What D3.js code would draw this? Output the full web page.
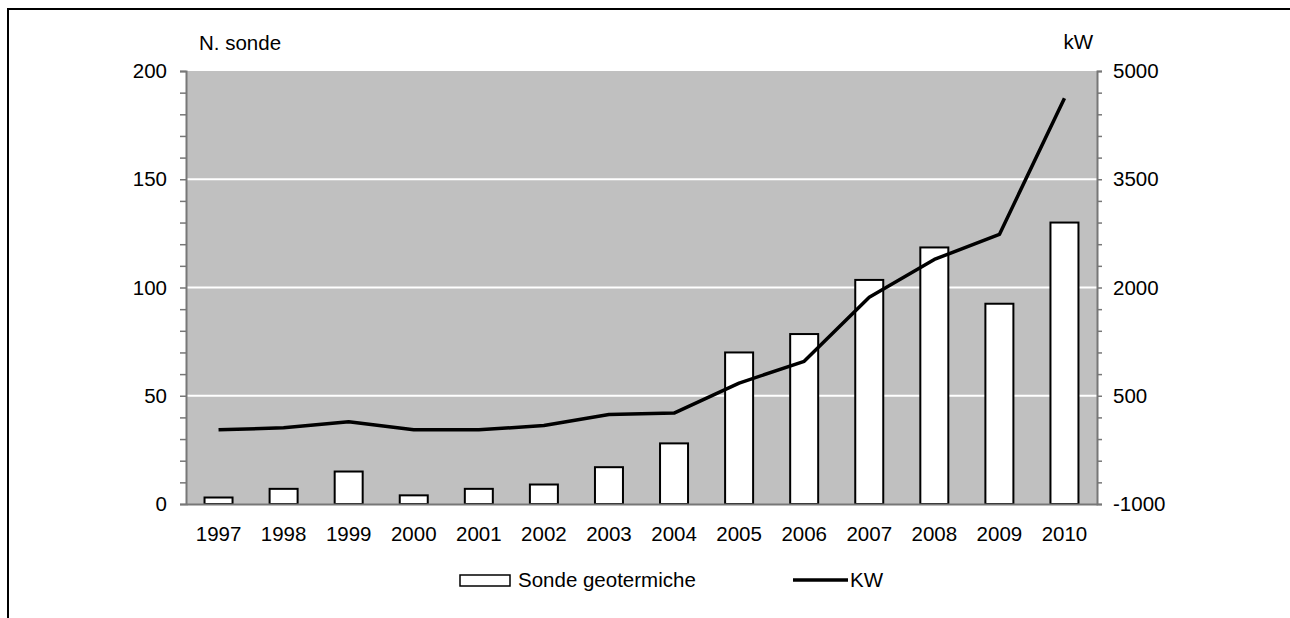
<!DOCTYPE html>
<html>
<head>
<meta charset="utf-8">
<script src="https://cdn.jsdelivr.net/npm/d3@7"></script>
<style>
  html, body { margin: 0; padding: 0; background: #fff; }
  svg { display: block; font-family: "Liberation Sans", Arial, sans-serif; }
</style>
</head>
<body>
<svg id="chart" width="1290" height="618"></svg>
<script>
const years = ["1997","1998","1999","2000","2001","2002","2003","2004","2005","2006","2007","2008","2009","2010"];
const sonde = [3, 7, 15, 4, 7, 9, 17, 28, 70, 78.5, 103.5, 118.5, 92.5, 130];
const kw = [28, 56, 139, 28, 28, 87, 240, 260, 676, 977, 1866, 2389, 2736, 4621];
const leftTicks = [0, 50, 100, 150, 200];
const rightTicks = [-1000, 500, 2000, 3500, 5000];
const leftTitle = "N. sonde";
const rightTitle = "kW";
const legendLabels = ["Sonde geotermiche", "KW"];

const svg = d3.select("#chart");
const m = { left: 186, right: 1097, top: 71, bottom: 504 };

// frame
svg.append("line").attr("x1", 8).attr("x2", 1290).attr("y1", 9).attr("y2", 9)
  .attr("stroke", "#000").attr("stroke-width", 2);
svg.append("line").attr("x1", 8).attr("x2", 8).attr("y1", 8).attr("y2", 618)
  .attr("stroke", "#000").attr("stroke-width", 2);

const xc = d3.scaleBand().domain(years).range([m.left, m.right]);
const yL = d3.scaleLinear().domain([0, 200]).range([m.bottom, m.top]);
const yR = d3.scaleLinear().domain([-1000, 5000]).range([m.bottom, m.top]);

// plot background
svg.append("rect").attr("x", m.left).attr("y", m.top)
  .attr("width", m.right - m.left).attr("height", m.bottom - m.top).attr("fill", "#c0c0c0");

// gridlines
svg.append("g").selectAll("line").data(leftTicks.filter(d => d > 0 && d < 200)).join("line")
  .attr("x1", m.left).attr("x2", m.right)
  .attr("y1", d => yL(d)).attr("y2", d => yL(d))
  .attr("stroke", "#fff").attr("stroke-width", 2);

// bars
const bw = 28;
svg.append("g").selectAll("rect").data(years).join("rect")
  .attr("x", d => xc(d) + xc.bandwidth() / 2 - bw / 2)
  .attr("width", bw)
  .attr("y", (d, i) => yL(sonde[i]))
  .attr("height", (d, i) => yL(0) - yL(sonde[i]))
  .attr("fill", "#fff").attr("stroke", "#000").attr("stroke-width", 2);

// line
const line = d3.line().x((d, i) => xc(years[i]) + xc.bandwidth() / 2).y(d => yR(d));
svg.append("path").datum(kw).attr("d", line)
  .attr("fill", "none").attr("stroke", "#000").attr("stroke-width", 3.5)
  .attr("stroke-linejoin", "round");

// axes
const axisColor = "#777";
const fs = 20.5;

// left axis
const gL = svg.append("g").attr("transform", `translate(${m.left},0)`);
gL.call(d3.axisLeft(yL).tickValues(d3.range(0, 201, 10)).tickSize(6).tickFormat(""));
gL.select(".domain").attr("stroke", axisColor).attr("stroke-width", 2);
gL.selectAll(".tick line").attr("stroke", axisColor).attr("stroke-width", 1.5);
gL.append("g").selectAll("text").data(leftTicks).join("text")
  .attr("x", -19).attr("y", d => yL(d)).attr("dy", "0.35em")
  .attr("text-anchor", "end").attr("font-size", fs).attr("fill", "#000").text(d => d);

// right axis
const gR = svg.append("g").attr("transform", `translate(${m.right},0)`);
gR.call(d3.axisRight(yR).tickValues(d3.range(-1000, 5001, 300)).tickSize(5).tickFormat(""));
gR.select(".domain").attr("stroke", axisColor).attr("stroke-width", 2);
gR.selectAll(".tick line").attr("stroke", axisColor).attr("stroke-width", 1.5);
gR.append("g").selectAll("text").data(rightTicks).join("text")
  .attr("x", 16).attr("y", d => yR(d)).attr("dy", "0.35em")
  .attr("text-anchor", "start").attr("font-size", fs).attr("fill", "#000").text(d => d);

// bottom axis
const gB = svg.append("g").attr("transform", `translate(0,${m.bottom})`);
gB.call(d3.axisBottom(xc).tickSize(0).tickPadding(0));
gB.select(".domain").attr("stroke", axisColor).attr("stroke-width", 2);
gB.selectAll(".tick text").attr("font-size", fs).attr("fill", "#000")
  .attr("font-family", "Liberation Sans, Arial, sans-serif").attr("y", 37).attr("dy", 0);

// axis titles
svg.append("text").attr("x", 199).attr("y", 50).attr("font-size", fs).text(leftTitle);
svg.append("text").attr("x", 1093).attr("y", 49).attr("text-anchor", "end").attr("font-size", fs).text(rightTitle);

// legend
svg.append("rect").attr("x", 460).attr("y", 575).attr("width", 50).attr("height", 11)
  .attr("fill", "#fff").attr("stroke", "#000").attr("stroke-width", 1.5);
svg.append("text").attr("x", 518).attr("y", 587).attr("font-size", fs).text(legendLabels[0]);
svg.append("line").attr("x1", 793).attr("x2", 848).attr("y1", 580).attr("y2", 580)
  .attr("stroke", "#000").attr("stroke-width", 3.5);
svg.append("text").attr("x", 850).attr("y", 587).attr("font-size", fs).text(legendLabels[1]);
</script>
</body>
</html>
